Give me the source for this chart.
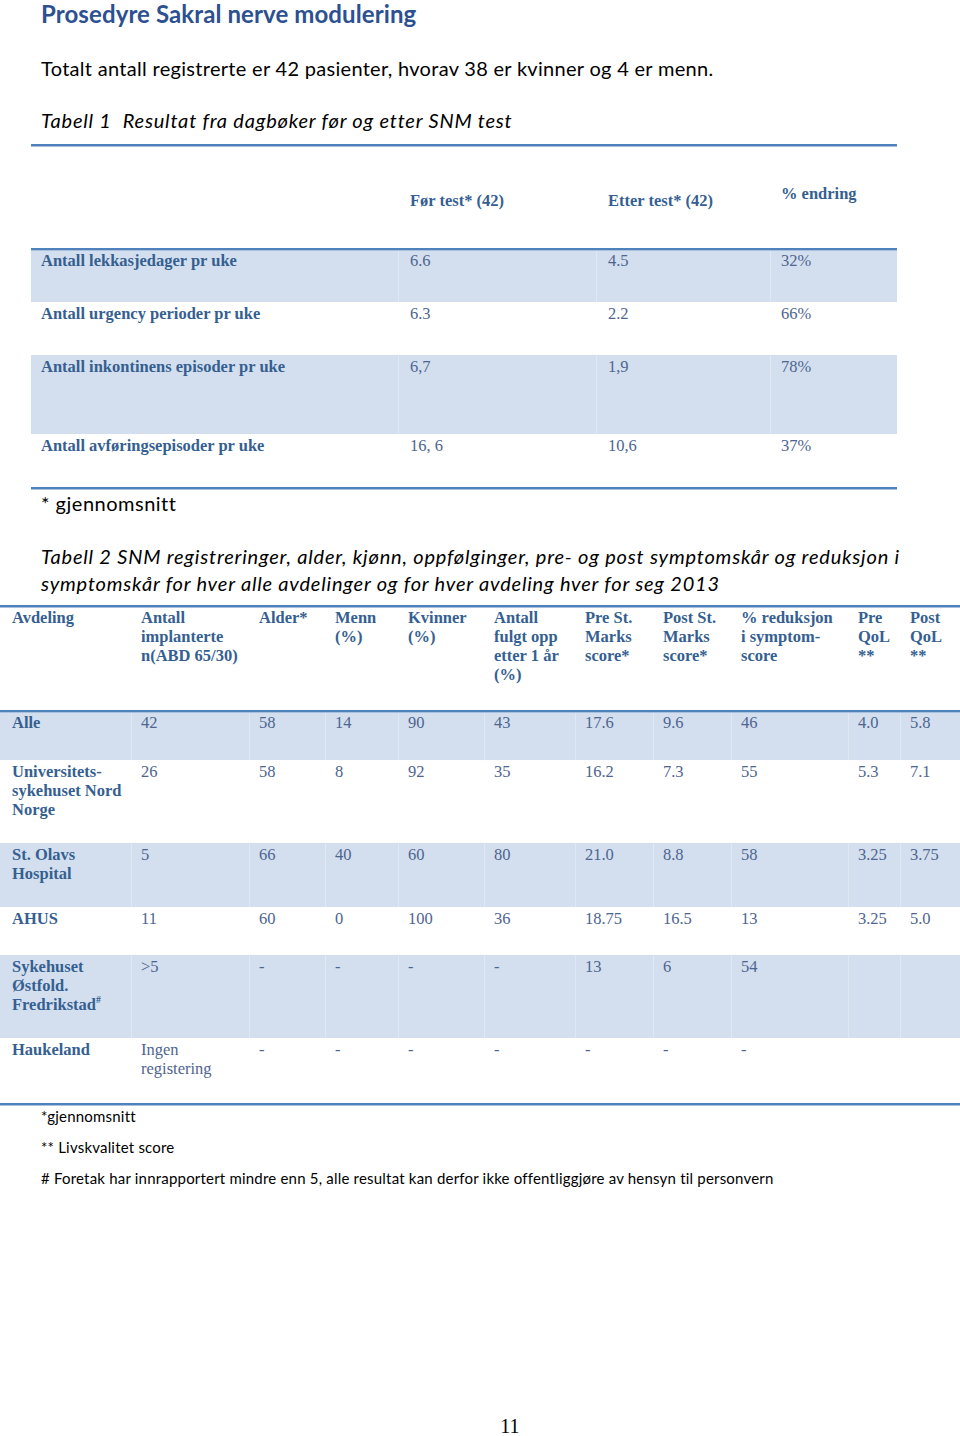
import React from 'react';

// ---------- Data ----------
const pageTitle = 'Prosedyre Sakral nerve modulering';
const introText = 'Totalt antall registrerte er 42 pasienter, hvorav 38 er kvinner og 4 er menn.';
const table1Caption = 'Tabell 1  Resultat fra dagbøker før og etter SNM test';
const table1Headers = ['Før test* (42)', 'Etter test* (42)', '% endring'];
const table1Labels = [
  'Antall lekkasjedager pr uke',
  'Antall urgency perioder pr uke',
  'Antall inkontinens episoder pr uke',
  'Antall avføringsepisoder pr uke',
];
const table1Before = ['6.6', '6.3', '6,7', '16, 6'];
const table1After = ['4.5', '2.2', '1,9', '10,6'];
const table1Change = ['32%', '66%', '78%', '37%'];
const table1Note = '* gjennomsnitt';

const table2Caption = [
  'Tabell 2 SNM registreringer, alder, kjønn, oppfølginger, pre- og post symptomskår og reduksjon i',
  'symptomskår for hver alle avdelinger og for hver avdeling hver for seg 2013',
];
const table2Headers = [
  ['Avdeling'],
  ['Antall', 'implanterte', 'n(ABD 65/30)'],
  ['Alder*'],
  ['Menn', '(%)'],
  ['Kvinner', '(%)'],
  ['Antall', 'fulgt opp', 'etter 1 år', '(%)'],
  ['Pre St.', 'Marks', 'score*'],
  ['Post St.', 'Marks', 'score*'],
  ['% reduksjon', 'i symptom-', 'score'],
  ['Pre', 'QoL', '**'],
  ['Post', 'QoL', '**'],
];
const table2Departments = [
  ['Alle'],
  ['Universitets-', 'sykehuset Nord', 'Norge'],
  ['St. Olavs', 'Hospital'],
  ['AHUS'],
  ['Sykehuset', 'Østfold.', 'Fredrikstad#'],
  ['Haukeland'],
];
const table2Implanted = [['42'], ['26'], ['5'], ['11'], ['>5'], ['Ingen', 'registering']];
const table2Age = ['58', '58', '66', '60', '-', '-'];
const table2Men = ['14', '8', '40', '0', '-', '-'];
const table2Women = ['90', '92', '60', '100', '-', '-'];
const table2FollowUp = ['43', '35', '80', '36', '-', '-'];
const table2PreMarks = ['17.6', '16.2', '21.0', '18.75', '13', '-'];
const table2PostMarks = ['9.6', '7.3', '8.8', '16.5', '6', '-'];
const table2Reduction = ['46', '55', '58', '13', '54', '-'];
const table2PreQoL = ['4.0', '5.3', '3.25', '3.25', '', ''];
const table2PostQoL = ['5.8', '7.1', '3.75', '5.0', '', ''];
const footnotes = [
  '*gjennomsnitt',
  '** Livskvalitet score',
  '# Foretak har innrapportert mindre enn 5, alle resultat kan derfor ikke offentliggjøre av hensyn til personvern',
];
const pageNumber = '11';

// ---------- Layout / style ----------
const BAND = '#d3dfee';
const RULE = '#4f81bd';
const HEAD = '#365f91';
const VAL = '#4e6590';
const calibri = 'Lato, "Open Sans", sans-serif';
const serif = '"Liberation Serif", "Times New Roman", serif';

const t1Rows = [
  { top: 249, h: 53, band: true },
  { top: 302, h: 53, band: false },
  { top: 355, h: 79, band: true },
  { top: 434, h: 54, band: false },
];
const t1Cols = [41, 410, 608, 781];

const t2Rows = [
  { top: 711, h: 49, band: true },
  { top: 760, h: 83, band: false },
  { top: 843, h: 64, band: true },
  { top: 907, h: 48, band: false },
  { top: 955, h: 83, band: true },
  { top: 1038, h: 66, band: false },
];
const t2Cols = [12, 141, 259, 335, 408, 494, 585, 663, 741, 858, 910];

const Cell: React.FC<{ x: number; y: number; lines: string[]; bold?: boolean; color?: string }> = ({
  x,
  y,
  lines,
  bold,
  color,
}) => (
  <div
    style={{
      position: 'absolute',
      left: x,
      top: y,
      fontFamily: serif,
      fontSize: 17,
      lineHeight: '19px',
      fontWeight: bold ? 'bold' : 'normal',
      color: color || (bold ? HEAD : VAL),
      whiteSpace: 'nowrap',
      transform: 'scaleX(0.97)',
      transformOrigin: 'left top',
    }}
  >
    {lines.map((l, i) => {
      if (l.endsWith('#')) {
        return (
          <div key={i}>
            {l.slice(0, -1)}
            <sup style={{ fontSize: 10, lineHeight: 0 }}>#</sup>
          </div>
        );
      }
      return <div key={i}>{l}</div>;
    })}
  </div>
);

const Rule: React.FC<{ x1: number; x2: number; y: number }> = ({ x1, x2, y }) => (
  <div
    style={{
      position: 'absolute',
      left: x1,
      top: y - 1,
      width: x2 - x1,
      height: 2,
      background: RULE,
      boxShadow: '0 1px 0 #a9c0de',
    }}
  />
);

const PText: React.FC<{
  x: number;
  y: number;
  size: number;
  spacing?: number;
  italic?: boolean;
  children: React.ReactNode;
}> = ({ x, y, size, spacing, italic, children }) => (
  <div
    style={{
      position: 'absolute',
      left: x,
      top: y,
      fontFamily: calibri,
      fontSize: size,
      letterSpacing: spacing || 0,
      lineHeight: `${Math.round(size * 1.3)}px`,
      fontStyle: italic ? 'italic' : 'normal',
      color: '#000',
      whiteSpace: 'pre',
    }}
  >
    {children}
  </div>
);

export default function App() {
  const t2Values = [
    table2Implanted,
    table2Age.map((v) => [v]),
    table2Men.map((v) => [v]),
    table2Women.map((v) => [v]),
    table2FollowUp.map((v) => [v]),
    table2PreMarks.map((v) => [v]),
    table2PostMarks.map((v) => [v]),
    table2Reduction.map((v) => [v]),
    table2PreQoL.map((v) => [v]),
    table2PostQoL.map((v) => [v]),
  ];
  return (
    <div
      style={{
        position: 'absolute',
        left: 0,
        top: 0,
        width: 960,
        height: 1436,
        background: '#fff',
        overflow: 'hidden',
      }}
    >
      {/* Title */}
      <div
        style={{
          position: 'absolute',
          left: 41,
          top: 2,
          fontFamily: calibri,
          fontSize: 24,
          letterSpacing: 0.1,
          fontWeight: 'bold',
          color: '#2c5090',
          lineHeight: '24px',
          whiteSpace: 'nowrap',
        }}
      >
        {pageTitle}
      </div>
      <PText x={41} y={55} size={20} spacing={0.3}>
        {introText}
      </PText>
      <PText x={41} y={107} size={20} spacing={0.8} italic>
        {table1Caption}
      </PText>

      {/* Table 1 */}
      <Rule x1={31} x2={897} y={145} />
      {t1Rows.map((r, i) =>
        r.band ? (
          <div
            key={'b' + i}
            style={{ position: 'absolute', left: 31, top: r.top, width: 866, height: r.h, background: BAND }}
          />
        ) : null
      )}
      {t1Rows.map((r, i) =>
        r.band
          ? [398, 596, 770].map((x) => (
              <div
                key={'v' + i + x}
                style={{ position: 'absolute', left: x, top: r.top, width: 1, height: r.h, background: '#dfe8f3' }}
              />
            ))
          : null
      )}
      <Rule x1={31} x2={897} y={249} />
      <Cell x={t1Cols[1]} y={191} lines={[table1Headers[0]]} bold />
      <Cell x={t1Cols[2]} y={191} lines={[table1Headers[1]]} bold />
      <Cell x={t1Cols[3]} y={184} lines={[table1Headers[2]]} bold />
      {t1Rows.map((r, i) => (
        <React.Fragment key={'r' + i}>
          <Cell x={t1Cols[0]} y={r.top + 2} lines={[table1Labels[i]]} bold />
          <Cell x={t1Cols[1]} y={r.top + 2} lines={[table1Before[i]]} />
          <Cell x={t1Cols[2]} y={r.top + 2} lines={[table1After[i]]} />
          <Cell x={t1Cols[3]} y={r.top + 2} lines={[table1Change[i]]} />
        </React.Fragment>
      ))}
      <Rule x1={31} x2={897} y={488} />
      <PText x={41} y={490} size={20} spacing={0.5}>
        {table1Note}
      </PText>

      {/* Table 2 caption */}
      <PText x={41} y={543} size={20} spacing={0.8} italic>
        {table2Caption[0]}
      </PText>
      <PText x={41} y={570} size={20} spacing={0.8} italic>
        {table2Caption[1]}
      </PText>

      {/* Table 2 */}
      <Rule x1={0} x2={960} y={606} />
      {t2Rows.map((r, i) =>
        r.band ? (
          <div
            key={'b2' + i}
            style={{ position: 'absolute', left: 0, top: r.top, width: 960, height: r.h, background: BAND }}
          />
        ) : null
      )}
      {t2Rows.map((r, i) =>
        r.band
          ? t2Cols.slice(1).map((x) => (
              <div
                key={'v2' + i + x}
                style={{ position: 'absolute', left: x - 10, top: r.top, width: 1, height: r.h, background: '#dfe8f3' }}
              />
            ))
          : null
      )}
      <Rule x1={0} x2={960} y={711} />
      {table2Headers.map((h, c) => (
        <Cell key={'h' + c} x={t2Cols[c]} y={608} lines={h} bold />
      ))}
      {t2Rows.map((r, i) => (
        <React.Fragment key={'r2' + i}>
          <Cell x={t2Cols[0]} y={r.top + 2} lines={table2Departments[i]} bold />
          {t2Values.map((col, c) => (
            <Cell key={c} x={t2Cols[c + 1]} y={r.top + 2} lines={col[i]} />
          ))}
        </React.Fragment>
      ))}
      <Rule x1={0} x2={960} y={1104} />

      {/* Footnotes */}
      {footnotes.map((f, i) => (
        <PText key={'f' + i} x={41} y={1106 + i * 31} size={15} spacing={0.2}>
          {f}
        </PText>
      ))}

      {/* Page number */}
      <div
        style={{
          position: 'absolute',
          left: 0,
          width: 1020,
          top: 1414,
          textAlign: 'center',
          fontFamily: serif,
          fontSize: 20,
          lineHeight: '24px',
          color: '#000',
        }}
      >
        {pageNumber}
      </div>
    </div>
  );
}
